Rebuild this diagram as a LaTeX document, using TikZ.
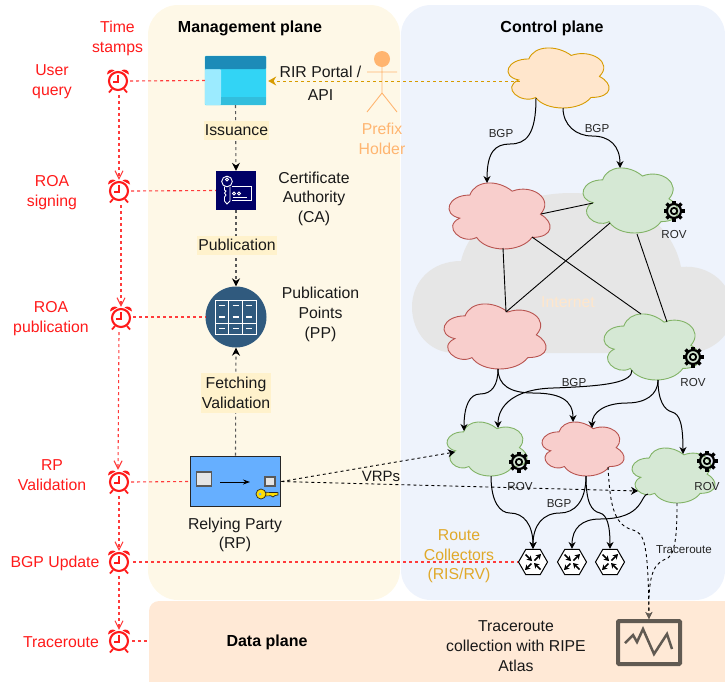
\documentclass[tikz,border=0pt]{standalone}
\usepackage{fontspec}
\setmainfont{Liberation Sans}
\usetikzlibrary{arrows.meta,calc,shapes.geometric}
\definecolor{mgmtbg}{HTML}{FEF8E7}
\definecolor{ctrlbg}{HTML}{EEF3FC}
\definecolor{databg}{HTML}{FFE9D6}
\definecolor{inetbg}{HTML}{E6E6E6}
\definecolor{labelbg}{HTML}{FFF2CC}
\definecolor{orfill}{HTML}{FFE6CC}
\definecolor{orline}{HTML}{D79B00}
\definecolor{rdfill}{HTML}{F8CECC}
\definecolor{rdline}{HTML}{B85450}
\definecolor{grfill}{HTML}{D5E8D4}
\definecolor{grline}{HTML}{82B366}
\definecolor{holder}{HTML}{FFB570}
\definecolor{rcgold}{HTML}{E0A92A}
\definecolor{stamp}{HTML}{FF1A1A}
\definecolor{stampline}{HTML}{FF3B3B}
\definecolor{monit}{HTML}{615A52}
\definecolor{ppblue}{HTML}{305A7E}
\definecolor{canavy}{HTML}{000066}
\definecolor{rpblue}{HTML}{66AFFF}
\tikzset{
  txt/.style={font=\fontsize{15.8}{19.7}\selectfont,align=center,inner sep=0pt,text=black!90,yshift=-1.3pt},
  redtxt/.style={txt,text=stamp},
  boldtxt/.style={font=\fontsize{16}{19.5}\selectfont\bfseries,inner sep=0pt,yshift=-1.2pt},
  small/.style={font=\fontsize{11.6}{14}\selectfont,inner sep=0pt,text=black!85,yshift=-.8pt},
  tag/.style={txt,fill=labelbg,minimum height=19pt,yshift=1.3pt},
  conn/.style={line width=1pt,-{Stealth[length=7pt,width=7pt]}},
  plain/.style={line width=.9pt},
  mgmtarrow/.style={draw=black!65,line width=1.1pt,dash pattern=on 3pt off 3pt,
     -{Stealth[length=8pt,width=8pt,black]}},
  dashblack/.style={line width=.9pt,dash pattern=on 3pt off 3pt,-{Stealth[length=7pt,width=8pt]}},
  tracearrow/.style={line width=.9pt,dash pattern=on 3pt off 3pt,-{Stealth[length=7pt,width=7pt,color=monit]}},
  redh/.style={draw=stampline,line width=1.1pt,dash pattern=on 3pt off 3pt},
  redv/.style={redh,-{Straight Barb[length=8pt,width=8pt]}},
  cloudline/.style={line width=.9pt},
}
\newcommand\cloudnode[6]{%
  \pgfmathsetmacro\cw{(#4-#2)/0.895}\pgfmathsetmacro\ch{(#5-#3)/0.856}%
  \pgfmathsetmacro\cx{#2-0.065*\cw}\pgfmathsetmacro\cy{#3-0.094*\ch}%
  \begin{scope}[shift={(\cx,\cy)},x=\cw pt,y=-\ch pt]
    \draw[cloudline,#6] (0.25,0.25) .. controls (0.05,0.25) and (0,0.5) .. (0.16,0.55)
      .. controls (0,0.66) and (0.18,0.9) .. (0.31,0.8)
      .. controls (0.4,1) and (0.7,1) .. (0.8,0.8)
      .. controls (1,0.8) and (1,0.6) .. (0.875,0.5)
      .. controls (1,0.3) and (0.8,0.1) .. (0.625,0.2)
      .. controls (0.5,0.05) and (0.3,0.05) .. (0.25,0.25) -- cycle;
  \end{scope}
  \pgfmathsetmacro\cw{#4-#2}\pgfmathsetmacro\ch{#5-#3}%
  \node[inner sep=0pt,minimum width=\cw pt,minimum height=\ch pt] (#1) at ({(#2+#4)/2},{(#3+#5)/2}) {};
}
\newcommand\clockicon[3]{%
  \node[circle,draw=stamp,line width=2.1pt,inner sep=0pt,minimum size=18pt] (#1) at (#2,#3) {};
  \begin{scope}[shift={(#2,#3)}]
    \fill[stamp] (-11,-6.5) .. controls (-11,-11.5) and (-6,-12.5) .. (-3.5,-10.5) -- cycle;
    \fill[stamp] (11,-6.5) .. controls (11,-11.5) and (6,-12.5) .. (3.5,-10.5) -- cycle;
    \draw[stamp,line width=1.8pt] (-6,8) -- (-9,11.5) (6,8) -- (9,11.5);
    \draw[stamp,line width=1.6pt] (0,-6) -- (0,1) -- (-5,1);
  \end{scope}
}
\newcommand\gearicon[3]{%
  \node[circle,draw=black,line width=2.2pt,inner sep=0pt,minimum size=14pt] (#1) at (#2,#3) {};
  \begin{scope}[shift={(#2,#3)}]
    \draw[line width=1.8pt] (0,0) circle (3.2);
    \foreach \a in {0,45,...,315}{\draw[line width=3.4pt] (\a:7) -- (\a:10.5);}
  \end{scope}
}
\newcommand\hexicon[3]{%
  \node[regular polygon,regular polygon sides=6,draw=black,fill=white,line width=1pt,inner sep=0pt,minimum size=29pt] (#1) at (#2,#3) {};
  \begin{scope}[shift={(#2,#3)},line width=1.5pt,>={Stealth[length=5pt,width=6pt]}]
    \draw[->] (-7.5,-7.5) -- (-1,-1);
    \draw[->] (1.5,-1.5) -- (8,-8);
    \draw[->] (-1.5,1.5) -- (-8,8);
    \draw[->] (7.5,7.5) -- (1,1);
  \end{scope}
}
\begin{document}
\begin{tikzpicture}[x=1pt,y=-1pt]
\useasboundingbox (0,0) rectangle (725,681);
% panels
\fill[mgmtbg,rounded corners=30pt] (148,5) rectangle (400,600);
\fill[ctrlbg,rounded corners=30pt] (401,5) rectangle (725,600);
\begin{scope}
\clip (0,0) rectangle (725,681);
\fill[databg,rounded corners=10pt] (149,601) rectangle (745,701);
\fill[inetbg] (455,353) .. controls (429,353) and (412,332) .. (412,307)
  .. controls (412,281) and (432,261) .. (461,261)
  .. controls (470,222) and (515,193) .. (571,193)
  .. controls (628,193) and (672,222) .. (681,267)
  .. controls (710,264) and (733,285) .. (733,311)
  .. controls (733,335) and (712,353) .. (687,353) -- cycle;
\end{scope}
\node[font=\fontsize{15.8}{19}\selectfont,text=orfill,inner sep=0pt] (inet) at (568,302) {Internet};
% titles
\node[boldtxt] (tm) at (250,27) {Management plane};
\node[boldtxt] (tc) at (552,27) {Control plane};
\node[boldtxt] (td) at (267,641) {Data plane};
% clouds
\cloudnode{co}{508}{48}{609}{108}{draw=orline,fill=orfill}
\cloudnode{r1}{449}{183}{550}{249}{draw=rdline,fill=rdfill}
\cloudnode{g1}{583}{168}{678}{233}{draw=grline,fill=grfill}
\cloudnode{r2}{444}{304}{546}{369}{draw=rdline,fill=rdfill}
\cloudnode{g2}{604}{314}{700}{380}{draw=grline,fill=grfill}
\cloudnode{g3}{447}{422}{527}{476}{draw=grline,fill=grfill}
\cloudnode{r3}{542}{422}{624}{476}{draw=rdline,fill=rdfill}
\cloudnode{g4}{632}{448}{715}{503}{draw=grline,fill=grfill}
% gears and ROV
\gearicon{ge1}{674}{211}
\gearicon{ge2}{693}{357}
\gearicon{ge3}{519}{462}
\gearicon{ge4}{707}{461}
\node[small] (rov1) at (674,234) {ROV};
\node[small] (rov2) at (693,382) {ROV};
\node[small] (rov3) at (520,486) {ROV};
\node[small] (rov4) at (707,486) {ROV};
% route collectors
\hexicon{hx1}{533}{562}
\hexicon{hx2}{572}{562}
\hexicon{hx3}{610}{562}
\node[txt,text=rcgold] (rc) at (459,555) {Route\\Collectors\\(RIS/RV)};
% mesh links
\draw[plain] ($(r1)+(41.5,-2)$) -- ($(g1)+(-37.5,2.5)$);
\draw[plain] ($(g1)+(-20.5,22.5)$) -- ($(r2)+(11,-24.5)$);
\draw[plain] ($(r1)+(3.5,32)$) -- ($(r2)+(11,-24.5)$);
\draw[plain] ($(r1)+(32.5,21)$) -- ($(g2)+(-11,-33)$);
\draw[plain] ($(g1)+(6.5,33.5)$) -- ($(g2)+(15,-25)$);
% BGP curves
\draw[conn] ($(co)+(-22.5,20)$) .. controls (536,135) and (526,144) .. (510,144) .. controls (495,144) and (487,152) .. ($(r1)+(-12.5,-33)$);
\draw[conn] ($(co)+(4.5,30)$) .. controls (563,125) and (576,136) .. (592,136) .. controls (610,136) and (620,146) .. ($(g1)+(-10.5,-32.5)$);
\draw[conn] ($(r2)+(3,32.5)$) .. controls (498,385) and (492,394) .. (480,394) .. controls (470,394) and (464,405) .. ($(g3)+(-23,-18)$);
\draw[conn] ($(r2)+(3,32.5)$) .. controls (498,385) and (510,393) .. (533,393) .. controls (560,393) and (573,400) .. ($(r3)+(-10,-27)$);
\draw[conn] ($(g2)+(-20,23)$) .. controls (632,382) and (610,386) .. (553,388) .. controls (515,389) and (498,405) .. ($(g3)+(11,-21)$);
\draw[conn] ($(g2)+(6,33)$) .. controls (658,395) and (645,403) .. (627,403) .. controls (605,403) and (592,412) .. ($(r3)+(9,-21)$);
\draw[conn] ($(g2)+(6,33)$) .. controls (658,400) and (664,410) .. (672,412) .. controls (680,414) and (683,425) .. ($(g4)+(9.5,-21.5)$);
\draw[conn] ($(g3)+(4,27)$) .. controls (491,502) and (500,513) .. (510,513) .. controls (524,513) and (533,525) .. (hx1.north);
\draw[conn] ($(r3)+(3,27)$) .. controls (586,502) and (574,513) .. (560,513) .. controls (543,513) and (533,525) .. (hx1.north);
\draw[conn] ($(r3)+(3,27)$) .. controls (586,502) and (591,511) .. (600,513) .. controls (607,515) and (610,525) .. (hx3.north);
\draw[conn] ($(g4)+(-25.5,18.5)$) .. controls (640,494) and (645,519) .. (600,519) .. controls (582,519) and (572,528) .. (hx2.north);
\node[small] (b1) at (501,133) {BGP};
\node[small] (b2) at (597,128) {BGP};
\node[small] (b3) at (574,382) {BGP};
\node[small] (b4) at (559,503) {BGP};
% monitor
\node[draw=monit,line width=4pt,rounded corners=1pt,inner sep=0pt,minimum width=62pt,minimum height=43pt] (mon) at (649,642.5) {};
\draw[monit,line width=2.5pt] ($(mon)+(-24,0.5)$) -- ++(8,-8) -- ++(4,7) -- ++(6,-13) -- ++(11,25) -- ++(13,-20) -- ++(5,15);
% traceroute links
\draw[tracearrow] ($(r3)+(25,18)$) .. controls (610,500) and (612,525) .. (633,530) .. controls (645,533) and (648,545) .. (mon.north);
\draw[tracearrow] ($(g4)+(3.5,27.5)$) .. controls (677,530) and (676,552) .. (668,558) .. controls (655,563) and (648,570) .. (mon.north);
\node[small] (trl) at (684,549) {Traceroute};
\node[txt] (tc2) at (516,645) {Traceroute\\collection with RIPE\\Atlas};
% portal
\node[inner sep=0pt,minimum width=61pt,minimum height=49pt] (portal) at (235.5,80.5) {};
\fill[rounded corners=1pt,fill={rgb,255:red,50;green,212;blue,245}] (portal.south west) rectangle (portal.north east);
\fill[fill={rgb,255:red,156;green,235;blue,255},rounded corners=1pt] (205,69) rectangle (221,105);
\fill[fill={rgb,255:red,50;green,190;blue,221}] (221,97) rectangle (266,105);
\fill[fill={rgb,255:red,28;green,139;blue,184},rounded corners=1pt] (205,56) rectangle (266,69);
% CA
\node[fill=canavy,inner sep=0pt,minimum width=40pt,minimum height=39pt] (ca) at (236,190.5) {};
\begin{scope}[white,line width=.9pt]
  \draw (227,181.5) circle (5.3);
  \draw (227,179.5) circle (1.6);
  \draw (224.5,186.5) -- (224.5,190) -- (226,191) -- (224.5,193) -- (226,195) -- (224.5,197) -- (224.5,201) -- (227,204) -- (230,201) -- (230,186.5);
  \draw (232,186) -- (251,186) -- (251,200) -- (232,200);
  \draw (234,193.5) circle (1.6);
  \draw (239,193.5) circle (1.6);
  \draw (233,197.5) -- (247,197.5);
\end{scope}
% PP
\node[circle,fill=ppblue,inner sep=0pt,minimum size=61pt] (pp) at (236,317) {};
\begin{scope}[white,line width=.9pt]
  \draw (215,300.5) rectangle (256,334);
  \draw (228.5,300.5) -- (228.5,334) (242,300.5) -- (242,334) (215,323) -- (256,323);
  \foreach \xx in {222,235.5,249}{
    \draw (\xx-3,305.5) -- (\xx+3,305.5);
    \draw[line width=1.3pt] (\xx-3,317) -- (\xx+3,317);
    \draw (\xx-3,328.5) -- (\xx+3,328.5);
  }
\end{scope}
% RP
\node[draw=black!85,fill=rpblue,line width=1.8pt,inner sep=0pt,minimum width=90pt,minimum height=50pt] (rp) at (235.5,481.5) {};
\draw[draw=black!65,fill=black!10,line width=1.1pt] (196.5,472) rectangle (211.5,486);
\draw[draw=black!65,fill=black!10,line width=1.1pt] (265,477) rectangle (275,486);
\draw[line width=.9pt,-{Stealth[length=7pt,width=5pt]}] (220,482) -- (250,482);
\draw[draw=black!85,fill=yellow!80!orange,line width=.7pt] (261,492.2) -- (278,492.6) -- (278,495) -- (275,495.5) -- (273,497) -- (271,495.8) -- (261,496) -- cycle;
\draw[draw=black!85,fill=yellow!80!orange,line width=.7pt] (261,494) circle (5);
\fill[rpblue] (260,494) circle (1.5);
% management arrows
\draw[mgmtarrow] (portal.south) -- (ca.north);
\draw[mgmtarrow] (ca.south) -- (pp.north);
\draw[mgmtarrow] (rp.north) -- (pp.south);
\node[tag,minimum width=65pt] (iss) at (236.5,130) {Issuance};
\node[tag,minimum width=80pt] (pub) at (237,245) {Publication};
\node[tag,minimum width=70pt,minimum height=40pt] (fet) at (236,393) {Fetching\\Validation};
\node[txt] (catxt) at (314,197.5) {Certificate\\Authority\\(CA)};
\node[txt] (pptxt) at (320.5,313) {Publication\\Points\\(PP)};
\node[txt] (rptxt) at (235,533.5) {Relying Party\\(RP)};
% VRPs
\draw[dashblack] (rp.east) -- ($(g3)+(-32,3)$);
\draw[dashblack] (rp.east) -- ($(g4)+(-35.5,15.5)$);
\node[txt,font=\fontsize{15}{18}\selectfont] (vrp) at (381,475) {VRPs};
% holder
\node[circle,fill=holder,inner sep=0pt,minimum size=16pt] (head) at (382,59) {};
\draw[holder,line width=.9pt] (head.south) -- (382,93) -- (367,112) (382,93) -- (397,112) (367,72) -- (397,72);
\node[txt,text=holder] (hld) at (382,137.5) {Prefix\\Holder};
\node[txt] (rir) at (320.5,82) {RIR Portal /\\[4pt]API};
\draw[orline,line width=1pt,dash pattern=on 3pt off 3pt,-{Stealth[length=8pt,width=9pt]}] ($(co)+(-39,3)$) -- ($(portal.east)+(2,0.5)$);
% clocks
\clockicon{k1}{118}{81}
\clockicon{k2}{119}{191}
\clockicon{k3}{121}{318}
\clockicon{k4}{119}{482}
\clockicon{k5}{119}{562}
\clockicon{k6}{119}{641}
% stamp links
\draw[redh] (k1.east) ++(2,0) -- (portal.west);
\draw[redh] (k2.east) ++(2,0) -- (ca.west);
\draw[redh] (k3.east) ++(2,-1) -- (pp.west);
\draw[redh] (k4.east) ++(2,0) -- (rp.west);
\draw[redh] (k5.east) ++(4,0) -- (hx1.west);
\draw[redh] (k6.east) ++(3,0) -- (148,641);
\draw[redv] (k1.south) ++(1,4) -- ($(k2.north)+(0,-1)$);
\draw[redv] (k2.south) ++(2,4) -- ($(k3.north)+(0,-1)$);
\draw[redv] (k3.south) ++(-2,4) -- ($(k4.north)+(-1,-2)$);
\draw[redv] (k4.south) ++(0,4) -- ($(k5.north)+(0,-1)$);
\draw[redv] (k5.south) ++(0,4) -- ($(k6.north)+(0,-1)$);
% stamp labels
\node[redtxt] (l0) at (117.5,37) {Time\\stamps};
\node[redtxt] (l1) at (52,80.5) {User\\query};
\node[redtxt] (l2) at (52,191) {ROA\\signing};
\node[redtxt] (l3) at (51,317.5) {ROA\\publication};
\node[redtxt] (l4) at (52,474) {RP\\Validation};
\node[redtxt] (l5) at (55,562) {BGP Update};
\node[redtxt] (l6) at (61,641) {Traceroute};
\end{tikzpicture}
\end{document}
